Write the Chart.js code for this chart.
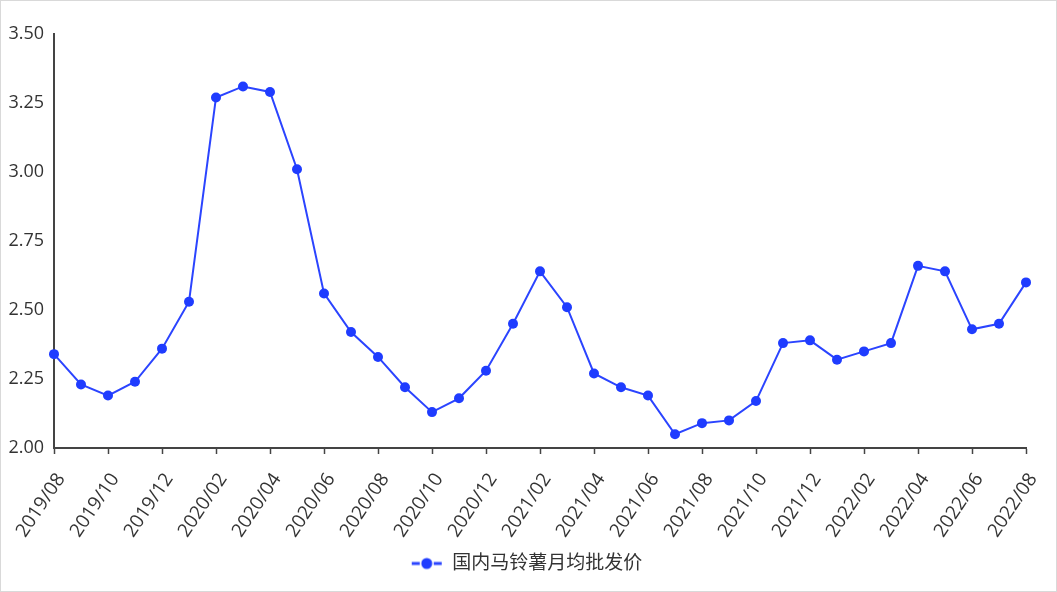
<!DOCTYPE html>
<html>
<head>
<meta charset="utf-8">
<script src="https://cdn.jsdelivr.net/npm/chart.js@4/dist/chart.umd.min.js"></script>
<style>
  html, body { margin: 0; padding: 0; background: #fff; }
  #frame { width: 1057px; height: 592px; box-sizing: border-box; border: 1px solid #d9d9d9; position: relative; }
  #c { display: block; }
</style>
</head>
<body>
<div id="frame"><canvas id="c"></canvas></div>
<script>
// Monthly categories, 2019/08 – 2022/08
const months = [
  '2019/08','2019/09','2019/10','2019/11','2019/12',
  '2020/01','2020/02','2020/03','2020/04','2020/05','2020/06','2020/07','2020/08','2020/09','2020/10','2020/11','2020/12',
  '2021/01','2021/02','2021/03','2021/04','2021/05','2021/06','2021/07','2021/08','2021/09','2021/10','2021/11','2021/12',
  '2022/01','2022/02','2022/03','2022/04','2022/05','2022/06','2022/07','2022/08'
];

// 国内马铃薯月均批发价 (元/公斤)
const potatoPrice = [
  2.34, 2.23, 2.19, 2.24, 2.36,
  2.53, 3.27, 3.31, 3.29, 3.01, 2.56, 2.42, 2.33, 2.22, 2.13, 2.18, 2.28,
  2.45, 2.64, 2.51, 2.27, 2.22, 2.19, 2.05, 2.09, 2.10, 2.17, 2.38, 2.39,
  2.32, 2.35, 2.38, 2.66, 2.64, 2.43, 2.45, 2.60
];

const seriesName = '国内马铃薯月均批发价';
const yTicks = [2.00, 2.25, 2.50, 2.75, 3.00, 3.25, 3.50];

const LINE_BLUE = '#2b44ff';
const POINT_BLUE = '#1f3cff';
const AXIS_GREY = '#444';
const TEXT_GREY = '#333';
const FONT = '"Open Sans", "Noto Sans CJK SC", sans-serif';

// Legend swatch: short dash – dot – dash, drawn at the right end of a wider box
const SWATCH_W = 58;
function legendSwatch() {
  const c = document.createElement('canvas');
  c.width = SWATCH_W; c.height = 14;
  const g = c.getContext('2d');
  const x0 = SWATCH_W - 31;
  g.strokeStyle = LINE_BLUE;
  g.lineWidth = 3;
  g.beginPath();
  g.moveTo(x0, 7); g.lineTo(x0 + 8, 7);
  g.moveTo(x0 + 22, 7); g.lineTo(x0 + 30, 7);
  g.stroke();
  g.fillStyle = POINT_BLUE;
  g.beginPath();
  g.arc(x0 + 15, 7, 5.5, 0, Math.PI * 2);
  g.fill();
  return c;
}
const swatch = legendSwatch();

new Chart(document.getElementById('c'), {
  type: 'line',
  data: {
    labels: months,
    datasets: [{
      label: seriesName,
      data: potatoPrice,
      borderColor: LINE_BLUE,
      backgroundColor: POINT_BLUE,
      borderWidth: 2,
      pointRadius: 5,
      pointHoverRadius: 5,
      pointBackgroundColor: POINT_BLUE,
      pointBorderWidth: 0,
      tension: 0,
      fill: false
    }]
  },
  options: {
    responsive: true,
    maintainAspectRatio: false,
    animation: false,
    layout: { padding: { left: 0, right: 30, top: 33, bottom: 8 } },
    plugins: {
      tooltip: { enabled: false },
      legend: {
        position: 'bottom',
        labels: {
          usePointStyle: true,
          pointStyle: swatch,
          pointStyleWidth: SWATCH_W,
          padding: 10,
          color: TEXT_GREY,
          font: { family: FONT, size: 19 }
        }
      }
    },
    scales: {
      x: {
        offset: false,
        border: { display: true, color: AXIS_GREY, width: 2 },
        grid: {
          drawOnChartArea: false,
          drawTicks: true,
          tickLength: 6,
          tickWidth: 1.5,
          tickColor: ctx => (ctx.index % 2 === 0 ? AXIS_GREY : 'rgba(0,0,0,0)')
        },
        ticks: {
          autoSkip: false,
          minRotation: 56,
          maxRotation: 56,
          padding: 15,
          labelOffset: 7,
          color: TEXT_GREY,
          font: { family: FONT, size: 19 },
          callback: function (v, i) { return i % 2 === 0 ? months[i] : ''; }
        },
        afterFit: s => {
          s.height = 96;
          // side room is already reserved by the layout padding
          s.paddingLeft = 0;
          s.paddingRight = 0;
        }
      },
      y: {
        min: 2.0,
        max: 3.5,
        border: { display: true, color: AXIS_GREY, width: 2 },
        grid: { drawOnChartArea: false, drawTicks: false },
        afterBuildTicks: s => { s.ticks = yTicks.map(v => ({ value: v })); },
        ticks: {
          padding: 10,
          color: TEXT_GREY,
          font: { family: FONT, size: 18 },
          callback: v => Number(v).toFixed(2)
        },
        afterFit: s => { s.width = 53; }
      }
    }
  }
});
</script>
</body>
</html>
